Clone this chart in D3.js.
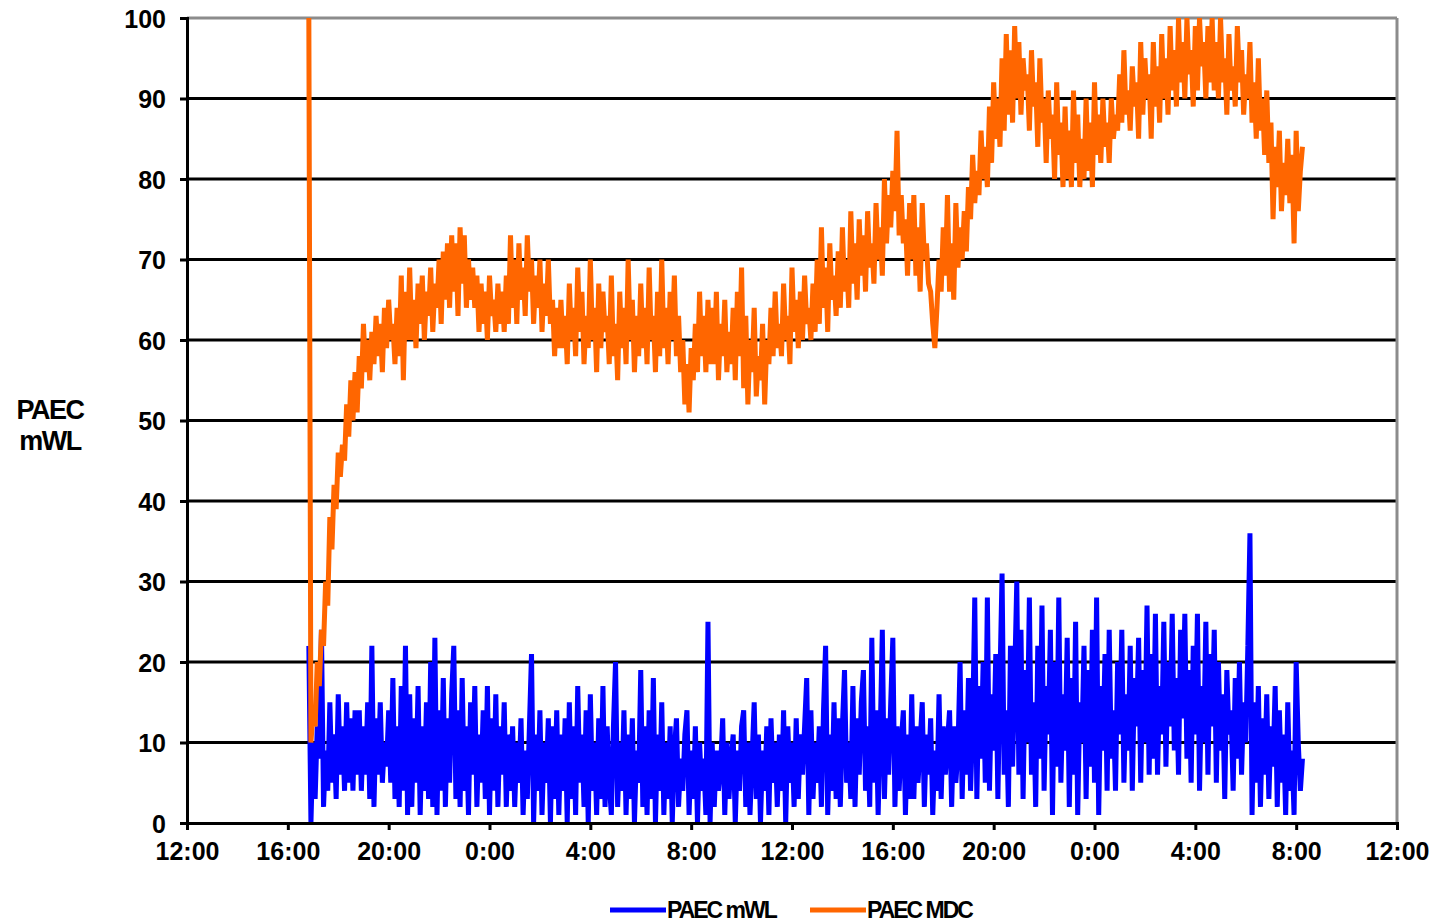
<!DOCTYPE html>
<html>
<head>
<meta charset="utf-8">
<script src="https://cdn.jsdelivr.net/npm/d3@7/dist/d3.min.js"></script>
<style>
  html, body { margin: 0; padding: 0; background: #fff; }
  svg text { font-family: "Liberation Sans", Arial, sans-serif; font-weight: bold; fill: #000; }
</style>
</head>
<body>
<svg id="chart" width="1439" height="924"></svg>
<script>
// Time axis covers two days, noon to noon, ticks every 4 hours
const axisStart = new Date(2000, 0, 1, 12, 0);
const axisEnd = new Date(2000, 0, 3, 12, 0);
// Readings start at 16:50 on day one, one reading every 5 minutes (24 per row = 2 hours)
const seriesStart = new Date(2000, 0, 1, 16, 50);
const stepMinutes = 5;

const yTicks = [0, 10, 20, 30, 40, 50, 60, 70, 80, 90, 100];

// PAEC measured as MDC (orange)
const paecMDC = [
  100, 10, 14, 12, 20, 17, 24, 22, 30, 27, 38, 34, 42, 39, 46, 43, 47, 45, 52, 48, 55, 50, 56, 51,
  58, 54, 62, 56, 60, 55, 61, 57, 63, 58, 62, 56, 64, 59, 65, 60, 62, 57, 64, 58, 68, 55, 66, 60,
  69, 60, 65, 59, 67, 62, 68, 60, 66, 63, 69, 61, 67, 64, 70, 62, 71, 65, 72, 64, 73, 66, 72, 63,
  74, 67, 73, 64, 70, 65, 69, 64, 68, 61, 67, 62, 66, 60, 68, 63, 65, 61, 67, 62, 66, 61, 68, 62,
  73, 64, 70, 62, 72, 65, 69, 63, 73, 66, 70, 62, 68, 64, 70, 61, 67, 63, 70, 62, 65, 58, 64, 59,
  65, 59, 63, 57, 67, 60, 64, 58, 69, 61, 66, 57, 63, 59, 70, 60, 64, 56, 67, 59, 66, 61, 63, 57,
  68, 58, 62, 55, 66, 59, 64, 57, 70, 60, 65, 56, 63, 58, 67, 59, 64, 57, 69, 60, 63, 56, 66, 58,
  70, 59, 64, 57, 66, 60, 68, 58, 63, 56, 60, 52, 57, 51, 59, 55, 62, 56, 66, 58, 63, 56, 65, 57,
  64, 57, 66, 55, 62, 58, 65, 56, 61, 57, 64, 55, 66, 58, 69, 54, 63, 52, 60, 56, 64, 53, 58, 55,
  62, 52, 60, 57, 64, 58, 66, 59, 62, 58, 67, 60, 63, 57, 69, 61, 65, 59, 66, 60, 68, 62, 64, 60,
  67, 61, 70, 62, 74, 64, 69, 61, 72, 65, 68, 63, 71, 64, 74, 66, 70, 64, 76, 67, 72, 65, 75, 68,
  73, 66, 76, 69, 72, 67, 77, 70, 74, 68, 80, 72, 78, 74, 81, 76, 86, 73, 78, 72, 75, 68, 77, 70,
  78, 68, 74, 66, 77, 70, 72, 67, 66, 62, 59, 64, 70, 66, 74, 68, 78, 66, 72, 65, 77, 69, 74, 70,
  76, 71, 79, 75, 83, 77, 81, 78, 86, 80, 84, 79, 89, 82, 92, 85, 90, 84, 95, 86, 98, 88, 96, 87,
  99, 90, 97, 88, 95, 91, 93, 86, 96, 89, 92, 84, 95, 87, 90, 82, 91, 85, 88, 80, 92, 83, 87, 79,
  89, 80, 86, 79, 91, 82, 88, 79, 85, 80, 90, 81, 87, 79, 92, 83, 88, 82, 90, 84, 87, 82, 90, 85,
  88, 86, 93, 87, 96, 88, 91, 86, 94, 89, 92, 85, 97, 88, 95, 90, 93, 85, 97, 89, 94, 87, 98, 90,
  95, 88, 99, 91, 96, 89, 100, 92, 97, 90, 100, 93, 96, 89, 99, 91, 100, 94, 97, 90, 99, 92, 100, 91,
  97, 90, 100, 92, 95, 88, 98, 91, 94, 89, 99, 92, 96, 88, 93, 90, 97, 87, 92, 85, 95, 86, 90, 83,
  91, 82, 87, 75, 84, 79, 86, 76, 82, 78, 85, 77, 83, 72, 86, 76, 81, 84
];

// PAEC measured as mWL (blue)
const paecMWL = [
  22, 0, 10, 3, 12, 8, 24, 2, 9, 4, 15, 5, 11, 3, 16, 6, 12, 4, 15, 5, 13, 4, 14, 6,
  14, 4, 12, 6, 15, 3, 22, 2, 13, 6, 15, 5, 10, 7, 14, 5, 18, 3, 12, 2, 17, 4, 22, 1,
  16, 2, 13, 5, 17, 1, 12, 4, 15, 3, 20, 2, 23, 1, 14, 4, 18, 2, 13, 5, 16, 22, 3, 14,
  2, 18, 4, 12, 1, 15, 6, 17, 2, 11, 5, 14, 3, 17, 1, 13, 4, 16, 2, 12, 6, 15, 2, 11,
  4, 12, 2, 10, 5, 13, 1, 9, 3, 12, 21, 0, 11, 4, 14, 1, 10, 5, 13, 0, 12, 3, 14, 1,
  11, 4, 13, 0, 15, 3, 12, 1, 17, 5, 11, 2, 14, 0, 16, 4, 10, 1, 13, 3, 17, 2, 12, 5,
  1, 12, 20, 2, 10, 4, 14, 1, 11, 3, 13, 0, 9, 5, 19, 2, 12, 1, 14, 3, 18, 0, 11, 4,
  15, 1, 10, 3, 12, 0, 9, 13, 2, 8, 4, 11, 14, 1, 9, 3, 12, 0, 10, 4, 8, 1, 25, 0,
  10, 2, 9, 4, 7, 13, 1, 10, 3, 8, 11, 0, 9, 4, 12, 14, 2, 10, 1, 8, 15, 3, 11, 0,
  9, 4, 12, 1, 13, 5, 10, 2, 11, 4, 14, 0, 12, 5, 10, 2, 13, 3, 11, 6, 12, 18, 1, 14,
  3, 10, 5, 12, 2, 14, 22, 1, 11, 4, 15, 3, 13, 2, 12, 19, 5, 10, 3, 17, 2, 13, 6, 15,
  19, 4, 12, 2, 23, 5, 14, 1, 11, 24, 3, 13, 6, 15, 23, 2, 12, 4, 10, 14, 1, 11, 3, 16,
  3, 12, 5, 10, 15, 2, 11, 6, 13, 1, 9, 4, 16, 3, 12, 6, 10, 14, 2, 12, 5, 9, 20, 3,
  14, 6, 18, 4, 12, 28, 3, 17, 8, 20, 5, 28, 4, 16, 9, 21, 3, 18, 31, 6, 14, 2, 22, 7,
  18, 30, 6, 24, 3, 19, 10, 28, 6, 15, 2, 22, 8, 27, 4, 17, 11, 24, 1, 20, 7, 28, 5, 16,
  9, 23, 2, 18, 6, 25, 1, 15, 10, 22, 3, 19, 7, 24, 5, 28, 1, 17, 9, 21, 4, 24, 8, 14,
  4, 20, 11, 24, 5, 16, 9, 22, 4, 18, 12, 23, 5, 19, 10, 27, 6, 21, 8, 26, 6, 17, 11, 25,
  7, 20, 12, 26, 9, 18, 6, 24, 13, 26, 8, 19, 5, 22, 11, 26, 4, 17, 10, 25, 6, 21, 12, 24,
  5, 20, 9, 16, 3, 19, 11, 14, 4, 18, 8, 20, 6, 15, 10, 22, 36, 1, 15, 5, 17, 2, 13, 6,
  16, 3, 12, 7, 17, 2, 14, 5, 11, 1, 15, 4, 9, 1, 20, 10, 4, 8
];

const seriesList = [
  { name: "PAEC mWL", values: paecMWL, color: "#0000ff" },
  { name: "PAEC MDC", values: paecMDC, color: "#ff6600" }
];

const svg = d3.select("#chart");
const plotLeft = 187, plotRight = 1397, plotTop = 18, plotBottom = 823;

const x = d3.scaleTime().domain([axisStart, axisEnd]).range([plotLeft, plotRight]);
const y = d3.scaleLinear().domain([0, 100]).range([plotBottom, plotTop]);

const timeAt = i => new Date(seriesStart.getTime() + i * stepMinutes * 60000);

// Horizontal gridlines
svg.append("g")
  .selectAll("line")
  .data(yTicks.filter(v => v > 0 && v < 100))
  .join("line")
  .attr("x1", plotLeft).attr("x2", plotRight)
  .attr("y1", d => y(d)).attr("y2", d => y(d))
  .attr("stroke", "#000").attr("stroke-width", 3);

// Plot frame: grey top and right edges
svg.append("line").attr("x1", plotLeft).attr("x2", plotRight).attr("y1", y(100)).attr("y2", y(100))
  .attr("stroke", "#8c8c8c").attr("stroke-width", 3);
svg.append("line").attr("x1", plotRight).attr("x2", plotRight).attr("y1", plotTop).attr("y2", plotBottom)
  .attr("stroke", "#8c8c8c").attr("stroke-width", 3);

// Series lines
const line = d3.line()
  .x((d, i) => x(timeAt(i)))
  .y(d => y(d));

svg.append("g")
  .selectAll("path")
  .data(seriesList)
  .join("path")
  .attr("d", d => line(d.values))
  .attr("fill", "none")
  .attr("stroke", d => d.color)
  .attr("stroke-width", 5)
  .attr("stroke-linejoin", "bevel");

// Y axis
const yAxis = svg.append("g")
  .attr("transform", `translate(${plotLeft},0)`)
  .call(d3.axisLeft(y).tickValues(yTicks).tickSize(7).tickPadding(14).tickFormat(d3.format("d")));
yAxis.select(".domain").attr("stroke", "#000").attr("stroke-width", 3);
yAxis.selectAll(".tick line").attr("stroke", "#000").attr("stroke-width", 3);
yAxis.selectAll(".tick text").style("font-size", "25px").attr("dy", "0.36em");

// X axis
const xAxis = svg.append("g")
  .attr("transform", `translate(0,${plotBottom})`)
  .call(d3.axisBottom(x).ticks(d3.timeHour.every(4)).tickSize(7).tickPadding(12)
    .tickFormat(d3.timeFormat("%-H:%M")));
xAxis.select(".domain").attr("stroke", "#000").attr("stroke-width", 3);
xAxis.selectAll(".tick line").attr("stroke", "#000").attr("stroke-width", 3);
xAxis.selectAll(".tick text").style("font-size", "25px");

// Y axis title
const title = svg.append("text")
  .attr("text-anchor", "middle")
  .style("font-size", "27px")
  .style("letter-spacing", "-1.5px");
title.append("tspan").attr("x", 50).attr("y", 419).text("PAEC");
title.append("tspan").attr("x", 50).attr("y", 450).text("mWL");

// Legend
const legend = svg.append("g");
const legendItems = [
  { s: seriesList[0], x0: 610 },
  { s: seriesList[1], x0: 810 }
];
legendItems.forEach(item => {
  legend.append("line")
    .attr("x1", item.x0).attr("x2", item.x0 + 56)
    .attr("y1", 910).attr("y2", 910)
    .attr("stroke", item.s.color).attr("stroke-width", 5);
  legend.append("text")
    .attr("x", item.x0 + 57).attr("y", 918)
    .style("font-size", "23px")
    .style("letter-spacing", "-2px")
    .text(item.s.name);
});
</script>
</body>
</html>
